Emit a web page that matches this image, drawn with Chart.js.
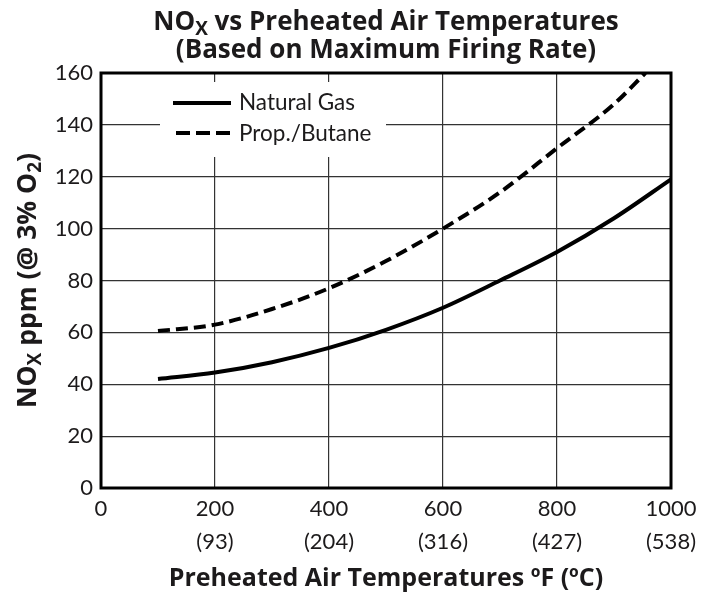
<!DOCTYPE html>
<html lang="en">
<head>
  <meta charset="UTF-8" />
  <title>NOx vs Preheated Air Temperatures</title>
  <script src="https://cdn.jsdelivr.net/npm/chart.js"></script>
  <style>
    body { margin: 0; background: #fff; }
    #wrap { width: 709px; height: 596px; }
  </style>
</head>
<body>
  <div id="wrap"><canvas id="grafica" width="709" height="596"></canvas></div>

  <script>
    // datos
    const tempsF = [100, 200, 300, 400, 500, 600, 700, 800, 900, 1000];
    const natGas = [42, 44.5, 48.5, 54, 61, 69.5, 80, 91, 104, 119];
    const propTempsF = [100, 200, 300, 400, 500, 600, 700, 800, 900, 955];
    const propButane = [60.5, 63, 69, 77, 87.5, 100, 114, 131, 148, 160];

    const tickF = [0, 200, 400, 600, 800, 1000];
    const tickC = ['', '(93)', '(204)', '(316)', '(427)', '(538)'];
    const yTicks = [0, 20, 40, 60, 80, 100, 120, 140, 160];

    const FONT = 'Lato, "Open Sans", sans-serif';
    const BOLD = '"Open Sans", Lato, sans-serif';
    const INK = '#1c1a1b';

    // texto con subindices: partes [{t, sub}]
    function drawRich(ctx, parts, x, y, size) {
      const big = 'bold ' + size + 'px ' + BOLD;
      const small = 'bold ' + Math.round(size * 0.72) + 'px ' + BOLD;
      let total = 0;
      parts.forEach(p => { ctx.font = p.sub ? small : big; total += ctx.measureText(p.t).width; });
      let cx = x - total / 2;
      ctx.textAlign = 'left';
      ctx.textBaseline = 'alphabetic';
      parts.forEach(p => {
        ctx.font = p.sub ? small : big;
        ctx.fillText(p.t, cx, p.sub ? y + size * 0.2 : y);
        cx += ctx.measureText(p.t).width;
      });
    }

    const extras = {
      id: 'extras',
      afterDraw(chart) {
        const ctx = chart.ctx;
        const a = chart.chartArea;
        const mid = (a.left + a.right) / 2;
        ctx.save();
        ctx.fillStyle = INK;

        // titulo
        drawRich(ctx, [{t: 'NO'}, {t: 'X', sub: true}, {t: ' vs Preheated Air Temperatures'}], mid, 30, 26);
        drawRich(ctx, [{t: '(Based on Maximum Firing Rate)'}], mid, 58, 26);

        // titulo eje x
        drawRich(ctx, [{t: 'Preheated Air Temperatures ºF (ºC)'}], mid, 586, 25);

        // titulo eje y
        ctx.save();
        ctx.translate(36, (a.top + a.bottom) / 2);
        ctx.rotate(-Math.PI / 2);
        drawRich(ctx, [{t: 'NO'}, {t: 'X', sub: true}, {t: ' ppm (@ 3% O'}, {t: '2', sub: true}, {t: ')'}], 0, 0, 26.5);
        ctx.restore();

        // leyenda
        ctx.fillStyle = '#fff';
        ctx.fillRect(160, 82, 226, 75);
        ctx.strokeStyle = '#000';
        ctx.lineWidth = 4;
        ctx.beginPath();
        ctx.moveTo(173, 103); ctx.lineTo(231, 103);
        ctx.stroke();
        ctx.setLineDash([14, 6]);
        ctx.beginPath();
        ctx.moveTo(176, 133); ctx.lineTo(230, 133);
        ctx.stroke();
        ctx.setLineDash([]);
        ctx.fillStyle = INK;
        ctx.font = '22.5px ' + FONT;
        ctx.textAlign = 'left';
        ctx.textBaseline = 'middle';
        ctx.fillText('Natural Gas', 239, 103);
        ctx.fillText('Prop./Butane', 239, 134);

        // marco
        ctx.strokeStyle = '#000';
        ctx.lineWidth = 3;
        ctx.strokeRect(a.left, a.top, a.right - a.left, a.bottom - a.top);
        ctx.restore();
      }
    };

    new Chart(document.getElementById('grafica'), {
      type: 'line',
      data: {
        datasets: [
          {
            label: 'Natural Gas',
            data: natGas.map((v, i) => ({x: tempsF[i], y: v})),
            borderColor: '#000',
            borderWidth: 4,
            pointRadius: 0,
            cubicInterpolationMode: 'monotone'
          },
          {
            label: 'Prop./Butane',
            data: propButane.map((v, i) => ({x: propTempsF[i], y: v})),
            borderColor: '#000',
            borderWidth: 4,
            borderDash: [12, 6],
            pointRadius: 0,
            cubicInterpolationMode: 'monotone'
          }
        ]
      },
      options: {
        responsive: false,
        animation: false,
        layout: { padding: { top: 73, right: 38, left: 0, bottom: 0 } },
        plugins: {
          legend: { display: false },
          title: { display: false },
          tooltip: { enabled: false }
        },
        scales: {
          x: {
            type: 'linear',
            min: 0,
            max: 1000,
            afterFit(s) { s.height = 108; },
            afterBuildTicks(s) { s.ticks = tickF.map(v => ({value: v})); },
            grid: { color: '#333', lineWidth: 1.2, drawTicks: false },
            border: { display: false },
            ticks: {
              color: INK,
              font: { family: FONT, size: 22, lineHeight: 1.5 },
              padding: 4,
              maxRotation: 0,
              callback(v) {
                const i = tickF.indexOf(v);
                return tickC[i] ? [String(v), tickC[i]] : String(v);
              }
            }
          },
          y: {
            min: 0,
            max: 160,
            afterFit(s) { s.width = 101; },
            afterBuildTicks(s) { s.ticks = yTicks.map(v => ({value: v})); },
            grid: { color: '#333', lineWidth: 1.2, drawTicks: false },
            border: { display: false },
            ticks: {
              color: INK,
              font: { family: FONT, size: 22 },
              padding: 8
            }
          }
        }
      },
      plugins: [extras]
    });
  </script>
</body>
</html>
